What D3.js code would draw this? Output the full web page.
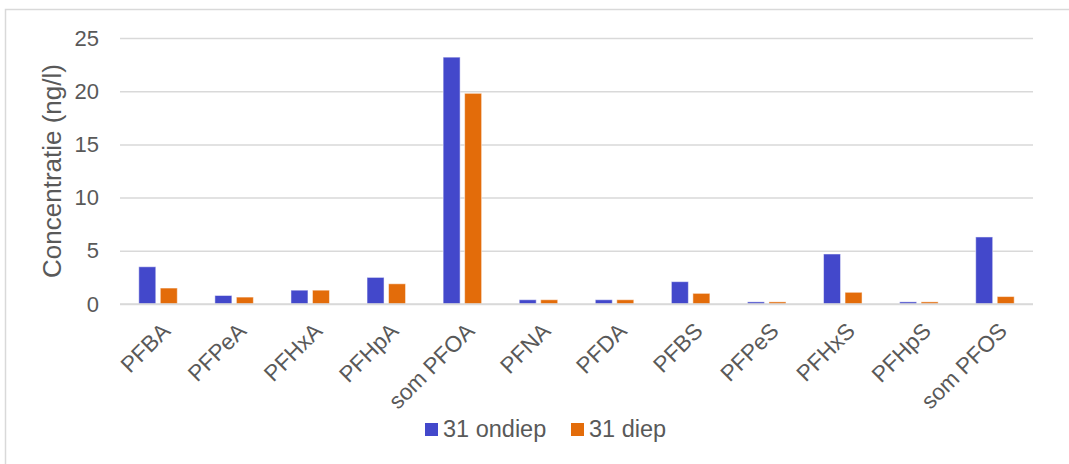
<!DOCTYPE html>
<html>
<head>
<meta charset="utf-8">
<script src="https://cdn.jsdelivr.net/npm/d3@7"></script>
<style>
  html, body { margin: 0; padding: 0; background: #fff; }
  svg { display: block; }
  text { font-family: "Liberation Sans", Arial, sans-serif; fill: #595959; }
</style>
</head>
<body>
<svg id="chart" width="1069" height="464"></svg>
<script>
const categories = ["PFBA", "PFPeA", "PFHxA", "PFHpA", "som PFOA", "PFNA", "PFDA", "PFBS", "PFPeS", "PFHxS", "PFHpS", "som PFOS"];
const seriesNames = ["31 ondiep", "31 diep"];
const ondiep = [3.5, 0.8, 1.3, 2.5, 23.2, 0.4, 0.4, 2.1, 0.2, 4.7, 0.2, 6.3];
const diep = [1.5, 0.65, 1.3, 1.9, 19.8, 0.4, 0.4, 1.0, 0.2, 1.1, 0.2, 0.7];
const yTicks = [0, 5, 10, 15, 20, 25];
const colors = ["#4348CB", "#E36C0A"];
const yTitle = "Concentratie (ng/l)";

const svg = d3.select("#chart");
const W = 1069, H = 464;
const plot = { left: 120, right: 1033, top: 38, bottom: 304 };

// frame
svg.append("rect")
  .attr("x", 5.5).attr("y", 9.5)
  .attr("width", W + 10).attr("height", H + 10)
  .attr("fill", "none").attr("stroke", "#d9d9d9").attr("stroke-width", 1.5);

const x0 = d3.scaleBand().domain(categories).range([plot.left, plot.right])
  .paddingInner(0.494).paddingOuter(0.247);
const x1 = d3.scaleBand().domain(seriesNames).range([0, x0.bandwidth()]).paddingInner(0.21);
const y = d3.scaleLinear().domain([0, 25]).range([plot.bottom, plot.top]);

// gridlines
const yAxis = d3.axisLeft(y).tickValues(yTicks).tickSize(-(plot.right - plot.left)).tickPadding(21).tickFormat(d3.format("d"));
const gy = svg.append("g").attr("transform", `translate(${plot.left},0)`).call(yAxis);
gy.select(".domain").remove();
gy.selectAll(".tick line").attr("stroke", "#d9d9d9").attr("stroke-width", 1.5);
gy.selectAll(".tick text").attr("font-size", 22).attr("fill", "#595959")
  .style("font-family", '"Liberation Sans", Arial, sans-serif');

// bars
const data = categories.map((c, i) => ({ cat: c, vals: [ondiep[i], diep[i]] }));
const groups = svg.append("g").selectAll("g").data(data).join("g")
  .attr("transform", d => `translate(${x0(d.cat)},0)`);
groups.selectAll("rect").data(d => d.vals.map((v, j) => ({ s: seriesNames[j], v, j })))
  .join("rect")
  .attr("x", d => x1(d.s))
  .attr("y", d => y(d.v))
  .attr("width", x1.bandwidth())
  .attr("height", d => y(0) - y(d.v))
  .attr("fill", d => colors[d.j])
  .attr("stroke", "#ffffff").attr("stroke-opacity", 0.5).attr("stroke-width", 1);

// x labels
const xAxis = d3.axisBottom(x0).tickSize(0).tickPadding(0);
const gx = svg.append("g").attr("transform", `translate(0,${plot.bottom})`).call(xAxis);
gx.select(".domain").remove();
gx.selectAll(".tick text")
  .attr("font-size", 22.5).attr("fill", "#595959")
  .style("font-family", '"Liberation Sans", Arial, sans-serif')
  .attr("text-anchor", "end")
  .attr("transform", "translate(2,17) rotate(-45)")
  .attr("x", 0).attr("y", 0).attr("dy", "0.72em");

// baseline
svg.append("line")
  .attr("x1", plot.left).attr("x2", plot.right)
  .attr("y1", y(0)).attr("y2", y(0))
  .attr("stroke", "#d9d9d9").attr("stroke-width", 1.5);

// y title
svg.append("text")
  .attr("transform", `translate(61,${(plot.top + plot.bottom) / 2}) rotate(-90)`)
  .attr("text-anchor", "middle")
  .attr("font-size", 26)
  .text(yTitle);

// legend
const legend = svg.append("g");
const legendX = [425, 571];
seriesNames.forEach((s, i) => {
  legend.append("rect").attr("x", legendX[i]).attr("y", 423).attr("width", 13).attr("height", 13).attr("fill", colors[i]);
  legend.append("text").attr("x", legendX[i] + 18).attr("y", 437).attr("font-size", 23.5).text(s);
});
</script>
</body>
</html>
